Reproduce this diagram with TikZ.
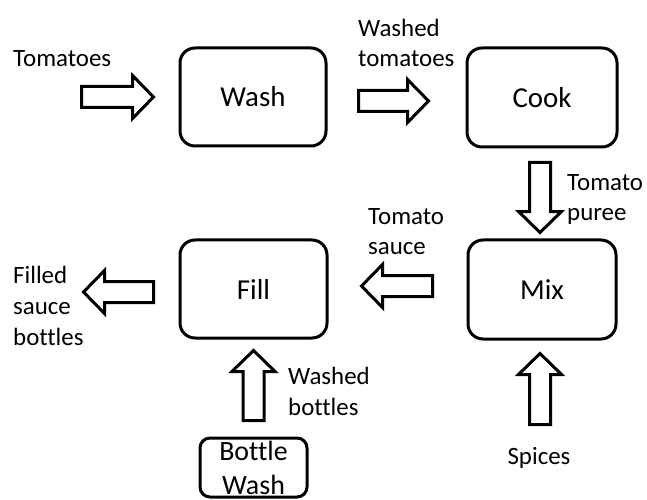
\documentclass[tikz,border=0pt]{standalone}
\usepackage{fontspec}
\setmainfont[Ligatures=NoCommon]{Carlito}
\usetikzlibrary{calc}
\begin{document}
\begin{tikzpicture}[x=1bp,y=-1bp,
  box/.style={draw=black, line width=3bp, rounded corners=15bp, inner sep=0pt, font=\fontsize{29}{34}\selectfont},
  lbl/.style={inner sep=0pt, align=left, anchor=base west, font=\fontsize{25}{31}\selectfont},
  pics/barrow/.style={code={\draw[line width=3bp, line join=miter, fill=white] (0,-10.5) -- (#1-21,-10.5) -- (#1-21,-21.5) -- (#1,0) -- (#1-21,21.5) -- (#1-21,10.5) -- (0,10.5) -- cycle;}}
]
\useasboundingbox (0,0) rectangle (647,500);

\node[box, minimum width=146bp, minimum height=98bp] (wash) at (253,97) {Wash};
\node[box, minimum width=150bp, minimum height=99bp] (cook) at (542,97.5) {Cook};
\node[box, minimum width=148bp, minimum height=99bp] (mix) at (542,289.5) {Mix};
\node[box, minimum width=147bp, minimum height=98bp] (fill) at (253.5,289) {Fill};
\node[box, rounded corners=10bp, minimum width=107bp, minimum height=59bp, font=\fontsize{28}{34}\selectfont, align=center] (bw) at (253.5,467.5) {Bottle\\Wash};

\pic at ($(wash.west)+(-97,0)$) {barrow=72};
\pic at ($(cook.west)+(-107,3.5)$) {barrow=70};
\pic[rotate=-90] at ($(cook.south)+(-2,14)$) {barrow=70};
\pic[rotate=180] at ($(mix.west)+(-34,-3.5)$) {barrow=71};
\pic[rotate=180] at ($(fill.west)+(-25,3)$) {barrow=70};
\pic[rotate=90] at ($(bw.north)+(0,-16)$) {barrow=70};
\pic[rotate=90] at ($(mix.south)+(-2,84)$) {barrow=71};

\node[lbl] (tom) at (13,67) {Tomatoes};
\node[lbl] (wt) at (358,67) {Washed\\tomatoes};
\node[lbl] (tp) at (567,221) {Tomato\\puree};
\node[lbl] (ts) at (368,255) {Tomato\\sauce};
\node[lbl] (fsb) at (13,345) {Filled\\sauce\\bottles};
\node[lbl] (wb) at (288,415) {Washed\\bottles};
\node[lbl, anchor=base] (sp) at (539,464) {Spices};
\end{tikzpicture}
\end{document}
